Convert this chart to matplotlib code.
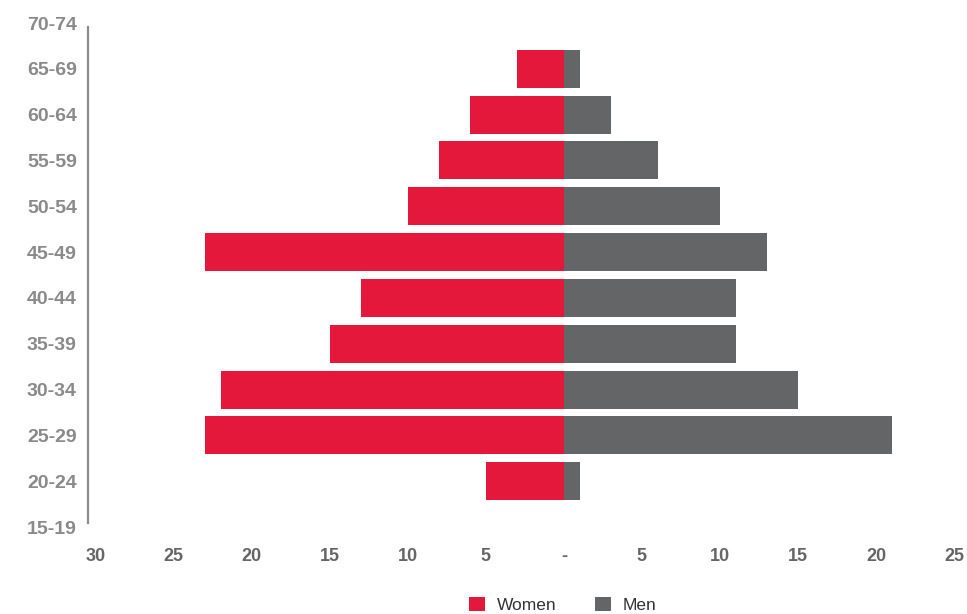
#!/usr/bin/env python3
import matplotlib
matplotlib.use("Agg")
import matplotlib.pyplot as plt
from matplotlib.ticker import FuncFormatter
import numpy as np

OUTPUT_FNAME = "out.png"

age_groups = ["15-19", "20-24", "25-29", "30-34", "35-39", "40-44",
              "45-49", "50-54", "55-59", "60-64", "65-69", "70-74"]
women = [0, 5, 23, 22, 15, 13, 23, 10, 8, 6, 3, 0]
men = [0, 1, 21, 15, 11, 11, 13, 10, 6, 3, 1, 0]
x_ticks = [-30, -25, -20, -15, -10, -5, 0, 5, 10, 15, 20, 25]

RED = "#e4183a"
GREY = "#646567"

plt.rcParams["font.family"] = ["Liberation Sans", "DejaVu Sans"]


def fmt(v, pos):
    if abs(v) < 1e-9:
        return "-"
    return f"{abs(v):.0f}"


def plot():
    fig = plt.figure(figsize=(9.67, 6.14), dpi=100)
    ax = fig.add_axes([88 / 967, 87 / 614, (954 - 88) / 967, (527 - 23) / 614])

    y = np.arange(len(age_groups))
    ax.barh(y, -np.array(women), height=0.83, color=RED, label="Women")
    ax.barh(y, men, height=0.83, color=GREY, label="Men")

    ax.set_xlim(-30.5, 25)
    ax.set_ylim(0, len(age_groups) - 1)

    ax.set_yticks(y, labels=age_groups)
    ax.set_xticks(x_ticks)
    ax.xaxis.set_major_formatter(FuncFormatter(fmt))

    for s in ["top", "right", "bottom"]:
        ax.spines[s].set_visible(False)
    ax.spines["left"].set_color("#8c8c8c")
    ax.spines["left"].set_linewidth(1.6)
    ax.spines["left"].set_bounds(0.09, len(age_groups) - 1.09)

    ax.tick_params(axis="y", length=0, pad=8, labelsize=14, labelcolor="#8a8a8a")
    ax.tick_params(axis="x", length=0, pad=15, labelsize=13, labelcolor="#666666")
    for lbl in ax.get_yticklabels() + ax.get_xticklabels():
        lbl.set_fontweight("bold")

    fig.legend(loc="center", bbox_to_anchor=(563 / 967, 1 - 605 / 614), ncol=2,
               frameon=False, fontsize=12.5, handlelength=0.9, handleheight=0.9,
               handletextpad=0.7, columnspacing=2.2, labelcolor="#333333")

    fig.savefig(OUTPUT_FNAME, dpi=100)


def main():
    plot()


if __name__ == "__main__":
    main()
